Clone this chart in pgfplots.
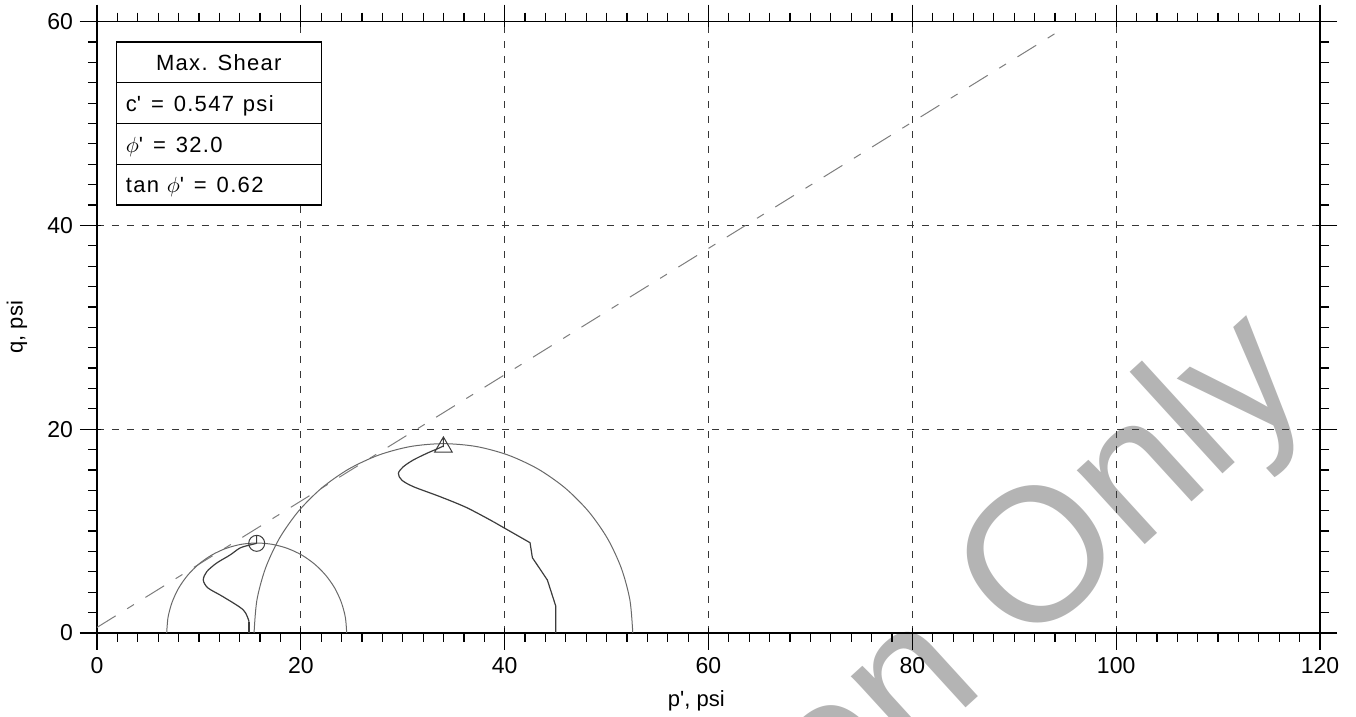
\documentclass[border=0pt]{standalone}
\usepackage{fontspec}
\setmainfont{Liberation Sans}
\newfontfamily\boxfont[LetterSpace=6]{Liberation Sans}
\usepackage{pgfplots}
\pgfplotsset{compat=1.18}
\definecolor{wm}{RGB}{180,180,180}
\definecolor{circc}{RGB}{105,105,105}
\definecolor{pathc}{RGB}{60,60,60}
\definecolor{failc}{RGB}{125,125,125}
\definecolor{gridc}{RGB}{55,55,55}
\pgfdeclareplotmark{ocirc}{%
  \pgfpathcircle{\pgfpointorigin}{\pgfplotmarksize}%
  \pgfpathmoveto{\pgfpointorigin}\pgfpathlineto{\pgfpoint{0pt}{\pgfplotmarksize}}%
  \pgfusepathqstroke}
\pgfdeclareplotmark{otri}{%
  \pgfpathmoveto{\pgfpointpolar{90}{\pgfplotmarksize}}%
  \pgfpathlineto{\pgfpointpolar{210}{\pgfplotmarksize}}%
  \pgfpathlineto{\pgfpointpolar{330}{\pgfplotmarksize}}%
  \pgfpathclose
  \pgfpathmoveto{\pgfpointorigin}\pgfpathlineto{\pgfpoint{0pt}{\pgfplotmarksize}}%
  \pgfusepathqstroke}
\begin{document}
\begin{tikzpicture}
\path[use as bounding box, clip] (-48.5pt,-42pt) rectangle (629.5pt,316.5pt);
\node[rotate=42.4, anchor=base east, inner sep=0pt, text=wm, font=\fontsize{95pt}{100pt}\selectfont] at (609pt,122pt) {Demonstration Only};
\begin{axis}[
  scale only axis, width=611.5pt, height=305.7pt,
  xmin=0, xmax=120, ymin=0, ymax=60,
  xtick={0,20,...,120}, ytick={0,20,40,60},
  minor x tick num=9, minor y tick num=9,
  tick align=outside,
  major tick length=8.5pt, minor tick length=4.5pt,
  every tick/.style={black, line width=0.6pt},
  axis line style={line width=0.6pt},
  separate axis lines,
  every outer x axis line/.append style={shorten <=-8.5pt, shorten >=-8.5pt},
  every outer y axis line/.append style={shorten <=-8.5pt, shorten >=-8.5pt},
  grid=major,
  major grid style={gridc, line width=0.65pt, dash pattern=on 3.7pt off 3.8pt},
  extra x ticks={0,20,...,120}, extra x tick labels={},
  extra x tick style={tick align=inside, major tick length=2.5pt, grid=none},
  extra y ticks={0,20,40,60}, extra y tick labels={},
  extra y tick style={tick align=inside, major tick length=2pt, grid=none},
  /pgf/number format/assume math mode=true,
  tick label style={font=\fontsize{11.5pt}{13pt}\selectfont},
  xlabel={p\textquotesingle,\ psi}, ylabel={q,\ psi},
  every axis x label/.style={at={(axis description cs:0.49,0)}, anchor=north, inner sep=0pt, yshift=-28.5pt, font=\fontsize{11pt}{13pt}\selectfont},
  every axis y label/.style={at={(axis description cs:0,0.5)}, xshift=-40pt, rotate=90, anchor=center, inner sep=0pt, font=\fontsize{11pt}{13pt}\selectfont},
]
% failure envelope
\addplot[failc, line width=0.5pt, dash pattern=on 11pt off 6.75pt on 4pt off 6.75pt] coordinates {(0,0.547) (94.3,59.01)};
% Mohr circle 1
\addplot[circc, line width=0.5pt, smooth] coordinates {
(24.50,0) (24.37,1.53) (23.97,3.02) (23.32,4.42) (22.43,5.68) (21.35,6.76) (20.09,7.65) (18.69,8.30) (17.20,8.70) (15.67,8.83)
(14.14,8.70) (12.65,8.30) (11.26,7.65) (9.99,6.76) (8.91,5.68) (8.02,4.42) (7.37,3.02) (6.97,1.53) (6.84,0)};
% Mohr circle 2
\addplot[circc, line width=0.5pt, smooth] coordinates {
(52.57,0) (52.29,3.23) (51.45,6.35) (50.08,9.29) (48.22,11.94) (45.93,14.23) (43.28,16.09) (40.34,17.46) (37.22,18.30) (33.99,18.58)
(30.76,18.30) (27.64,17.46) (24.70,16.09) (22.05,14.23) (19.76,11.94) (17.90,9.29) (16.53,6.35) (15.69,3.23) (15.41,0)};
% stress path 1
\addplot[pathc, line width=0.6pt] coordinates {(14.92,0) (14.92,1.11)};
\addplot[pathc, line width=0.6pt, smooth] coordinates {
(14.92,1.11) (14.36,2.26) (12.37,3.56) (10.89,4.42) (10.43,5.20) (10.77,6.02) (11.75,6.87) (13.05,7.65) (14.03,8.34) (15.01,8.64) (15.67,8.80)};
% stress path 2
\addplot[pathc, line width=0.6pt] coordinates {
(45.01,0) (45.01,2.65) (44.19,5.20) (42.72,7.39) (42.49,8.86) (38.89,10.92)};
\addplot[pathc, line width=0.6pt, smooth] coordinates {
(38.89,10.92) (36.28,12.30) (33.66,13.38) (31.04,14.36) (29.90,15.01) (29.57,15.67) (30.06,16.32) (31.04,16.98) (32.36,17.63) (33.50,18.12) (33.99,18.35)};
% markers
\addplot[only marks, mark=ocirc, mark size=4pt, pathc, line width=0.5pt] coordinates {(15.67,8.80)};
\addplot[only marks, mark=otri, mark size=5.1pt, pathc, line width=0.5pt] coordinates {(33.99,18.24)};
% parameter box
\draw[black, line width=0.6pt, fill=white] (axis cs:1.9,42) rectangle (axis cs:22,58);
\draw[black, line width=0.6pt] (axis cs:1.9,54) -- (axis cs:22,54);
\draw[black, line width=0.6pt] (axis cs:1.9,50) -- (axis cs:22,50);
\draw[black, line width=0.6pt] (axis cs:1.9,46) -- (axis cs:22,46);
\node[anchor=base, inner sep=0pt, font=\boxfont\fontsize{11pt}{13pt}\selectfont] at (axis cs:11.95,55.2) {Max. Shear};
\node[anchor=base west, inner sep=0pt, font=\boxfont\fontsize{11pt}{13pt}\selectfont] at (axis cs:2.8,51.2) {c\textquotesingle\hspace{0.45em}=\hspace{0.45em}0.547\hspace{0.4em}psi};
\node[anchor=base west, inner sep=0pt, font=\boxfont\fontsize{11pt}{13pt}\selectfont] at (axis cs:2.8,47.2) {$\phi$\textquotesingle\hspace{0.45em}=\hspace{0.45em}32.0};
\node[anchor=base west, inner sep=0pt, font=\boxfont\fontsize{11pt}{13pt}\selectfont] at (axis cs:2.8,43.2) {tan\hspace{0.35em}$\phi$\textquotesingle\hspace{0.45em}=\hspace{0.45em}0.62};
\end{axis}
\end{tikzpicture}
\end{document}
